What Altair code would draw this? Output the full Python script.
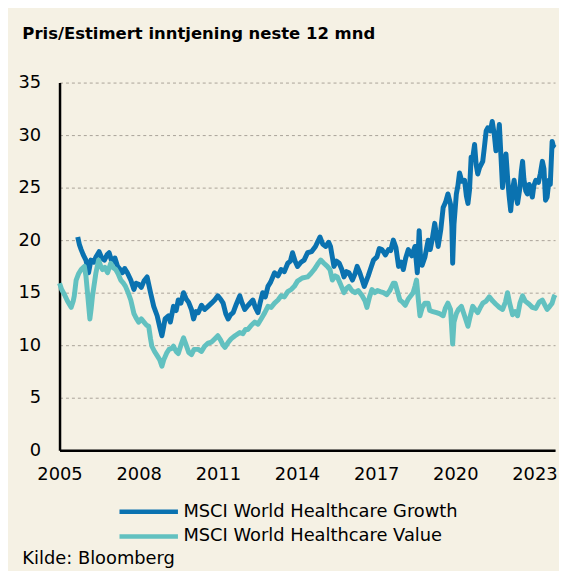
import altair as alt
import pandas as pd

# ---- data ----
growth_t = [2005.69, 2005.75, 2005.82, 2005.9, 2006.0, 2006.06, 2006.1, 2006.19, 2006.3, 2006.38,
            2006.5, 2006.6, 2006.7, 2006.8, 2006.88, 2007.0, 2007.1, 2007.2, 2007.3, 2007.38,
            2007.47, 2007.57, 2007.7, 2007.82, 2007.9, 2008.0, 2008.1, 2008.2, 2008.32, 2008.45,
            2008.57, 2008.7, 2008.82, 2008.88, 2008.95, 2009.0, 2009.13, 2009.2, 2009.32, 2009.42,
            2009.5, 2009.6, 2009.7, 2009.8, 2009.89, 2010.0, 2010.08, 2010.17, 2010.26, 2010.38,
            2010.5, 2010.63, 2010.76, 2010.88, 2011.0, 2011.1, 2011.2, 2011.3, 2011.39, 2011.48,
            2011.58, 2011.7, 2011.83, 2011.92, 2012.02, 2012.15, 2012.33, 2012.42, 2012.52, 2012.6,
            2012.7, 2012.8, 2012.9, 2013.0, 2013.15, 2013.28, 2013.4, 2013.52, 2013.65, 2013.75,
            2013.83, 2013.93, 2014.02, 2014.15, 2014.27, 2014.4, 2014.55, 2014.7, 2014.87, 2014.98,
            2015.09, 2015.2, 2015.27, 2015.4, 2015.5, 2015.6, 2015.7, 2015.78, 2015.88, 2015.97,
            2016.1, 2016.2, 2016.28, 2016.38, 2016.47, 2016.55, 2016.7, 2016.78, 2016.9, 2017.03,
            2017.12, 2017.22, 2017.35, 2017.47, 2017.55, 2017.65, 2017.75, 2017.85, 2017.95, 2018.03,
            2018.12, 2018.22, 2018.35, 2018.47, 2018.56, 2018.63, 2018.68, 2018.74, 2018.85, 2018.97,
            2019.05, 2019.12, 2019.22, 2019.35, 2019.45, 2019.54, 2019.63, 2019.72, 2019.82, 2019.87,
            2019.9, 2019.95, 2020.04, 2020.1, 2020.16, 2020.25, 2020.35, 2020.42, 2020.48, 2020.54,
            2020.6, 2020.67, 2020.73, 2020.79, 2020.85, 2020.92, 2021.04, 2021.1, 2021.17, 2021.23,
            2021.33, 2021.4, 2021.48, 2021.54, 2021.6, 2021.67, 2021.73, 2021.79, 2021.85, 2021.92,
            2021.98, 2022.04, 2022.1, 2022.17, 2022.23, 2022.3, 2022.36, 2022.45, 2022.5, 2022.55,
            2022.6, 2022.67, 2022.73, 2022.8, 2022.92, 2022.98, 2023.05, 2023.15, 2023.22, 2023.3,
            2023.36, 2023.42, 2023.48, 2023.55, 2023.6, 2023.67, 2023.72, 2023.78]
growth_v = [20.3, 19.6, 19.1, 18.6, 18.1, 17.4, 16.9, 18.1, 17.9, 18.4,
            18.9, 18.3, 18.1, 18.6, 18.8, 17.8, 18.3, 17.5, 17.2, 16.9,
            17.3, 16.9, 16.2, 15.3, 15.9, 15.8, 15.5, 16.1, 16.5, 15.0,
            13.7, 12.8, 11.5, 10.9, 11.8, 12.5, 12.8, 12.2, 13.7, 13.3,
            14.3, 14.0, 15.0, 14.4, 14.1, 13.4, 12.5, 13.2, 13.1, 13.8,
            13.4, 13.7, 14.0, 14.3, 14.7, 14.4, 14.0, 13.0, 12.5, 12.9,
            13.1, 13.9, 14.7, 14.0, 13.4, 13.8, 14.3, 13.6, 13.1, 14.0,
            15.0, 14.6, 15.6, 16.0, 16.9, 16.6, 17.2, 17.0, 17.8, 18.0,
            18.8, 18.0, 17.5, 17.9, 18.1, 18.8, 18.9, 19.4, 20.3, 19.6,
            19.4, 19.8, 19.4, 17.5, 18.0, 17.8, 17.2, 16.5, 17.0, 16.9,
            16.2, 16.8, 17.5, 16.9, 16.2, 15.6, 16.6, 17.2, 18.1, 18.4,
            19.2, 19.1, 18.6, 19.1, 19.0, 20.0, 19.3, 17.5, 17.9, 17.2,
            18.3, 19.1, 18.5, 19.4, 16.9, 20.9, 18.5, 17.6, 18.4, 20.0,
            19.1, 20.0, 21.6, 19.4, 21.0, 23.1, 23.6, 24.4, 23.4, 21.3,
            17.8, 21.5, 24.4, 25.2, 26.4, 25.6, 25.7, 24.2, 23.5, 24.8,
            27.9, 28.0, 29.1, 27.2, 26.3, 26.9, 27.5, 28.8, 30.4, 30.7,
            30.4, 31.3, 30.0, 28.5, 29.3, 31.0, 28.0, 25.0, 27.0, 28.2,
            26.0, 24.2, 22.8, 24.8, 25.7, 24.2, 23.5, 25.0, 26.5, 27.5,
            25.8, 24.7, 24.4, 25.3, 24.1, 25.2, 25.7, 25.5, 26.3, 27.5,
            26.8, 23.8, 24.1, 25.7, 25.3, 29.4, 28.9, 28.8]

value_t = [2005.0, 2005.08, 2005.19, 2005.3, 2005.44, 2005.52, 2005.56, 2005.63, 2005.72, 2005.82,
           2005.94, 2006.0, 2006.06, 2006.15, 2006.2, 2006.25, 2006.38, 2006.48, 2006.55, 2006.63,
           2006.72, 2006.82, 2006.94, 2007.03, 2007.13, 2007.22, 2007.32, 2007.42, 2007.5, 2007.6,
           2007.7, 2007.82, 2007.9, 2008.0, 2008.1, 2008.2, 2008.3, 2008.38, 2008.45, 2008.5,
           2008.6, 2008.7, 2008.8, 2008.88, 2008.95, 2009.07, 2009.15, 2009.25, 2009.32, 2009.42,
           2009.5, 2009.6, 2009.7, 2009.8, 2009.9, 2010.0, 2010.1, 2010.26, 2010.38, 2010.5,
           2010.63, 2010.76, 2010.88, 2011.0, 2011.1, 2011.2, 2011.27, 2011.4, 2011.5, 2011.65,
           2011.83, 2011.95, 2012.05, 2012.14, 2012.27, 2012.4, 2012.52, 2012.64, 2012.78, 2012.9,
           2013.02, 2013.15, 2013.28, 2013.4, 2013.52, 2013.65, 2013.78, 2013.9, 2014.02, 2014.2,
           2014.4, 2014.52, 2014.65, 2014.78, 2014.9, 2015.02, 2015.15, 2015.25, 2015.34, 2015.45,
           2015.53, 2015.65, 2015.78, 2015.88, 2015.97, 2016.08, 2016.2, 2016.32, 2016.47, 2016.58,
           2016.65, 2016.75, 2016.84, 2016.95, 2017.05, 2017.15, 2017.28, 2017.4, 2017.52, 2017.65,
           2017.72, 2017.82, 2017.9, 2018.0, 2018.1, 2018.22, 2018.4, 2018.47, 2018.53, 2018.6,
           2018.66, 2018.75, 2018.85, 2018.97, 2019.03, 2019.15, 2019.29, 2019.4, 2019.54, 2019.62,
           2019.72, 2019.82, 2019.9, 2019.95, 2020.04, 2020.12, 2020.23, 2020.35, 2020.48, 2020.56,
           2020.66, 2020.75, 2020.85, 2020.95, 2021.04, 2021.17, 2021.29, 2021.42, 2021.54, 2021.67,
           2021.79, 2021.9, 2021.98, 2022.06, 2022.17, 2022.27, 2022.36, 2022.45, 2022.55, 2022.65,
           2022.8, 2022.92, 2023.05, 2023.18, 2023.3, 2023.4, 2023.48, 2023.58, 2023.67, 2023.74,
           2023.78]
value_v = [15.9, 15.3, 14.8, 14.2, 13.6, 14.2, 14.7, 16.2, 16.8, 17.2,
           17.5, 16.6, 15.0, 12.5, 13.5, 14.7, 16.9, 18.1, 17.6, 17.2,
           17.4, 16.9, 17.8, 17.4, 17.2, 16.8, 16.2, 15.9, 15.6, 15.0,
           14.3, 13.0, 12.6, 12.2, 12.5, 12.2, 11.9, 11.8, 10.6, 9.9,
           9.4, 9.0, 8.6, 8.0, 8.6, 9.3, 9.6, 9.7, 9.9, 9.4,
           9.2, 10.0, 10.7, 10.0, 9.3, 9.1, 9.6, 9.6, 9.4, 9.9,
           10.2, 10.3, 10.6, 10.9, 10.5, 10.0, 9.8, 10.3, 10.6, 10.9,
           11.2, 11.1, 11.5, 11.5, 11.9, 12.2, 12.0, 12.5, 13.1, 13.7,
           13.6, 14.0, 14.3, 14.7, 14.6, 15.1, 15.3, 15.6, 16.1, 16.4,
           16.5, 16.8, 17.2, 17.7, 18.1, 17.8, 17.5, 17.2, 16.2, 16.6,
           16.5, 15.8, 15.0, 15.4, 15.6, 15.2, 15.0, 15.2, 14.7, 14.2,
           13.6, 14.6, 15.3, 15.0, 15.2, 15.1, 15.0, 14.8, 15.2, 15.9,
           15.9, 15.0, 14.3, 14.1, 13.8, 14.4, 15.0, 15.6, 16.2, 14.3,
           12.8, 13.6, 14.0, 14.0, 13.3, 13.2, 13.1, 13.0, 12.8, 13.5,
           14.0, 13.4, 10.1, 12.2, 13.0, 13.4, 13.7, 12.8, 11.8, 12.7,
           13.7, 13.4, 13.1, 13.6, 14.0, 14.2, 14.6, 14.2, 13.9, 13.6,
           13.4, 14.1, 15.0, 14.0, 12.9, 13.2, 12.8, 14.0, 14.7, 14.2,
           13.9, 13.6, 13.5, 14.1, 14.3, 13.8, 13.4, 13.7, 14.0, 14.6,
           14.8]

series_names = ["MSCI World Healthcare Growth", "MSCI World Healthcare Value"]
series_colors = ["#0a72b0", "#62c1c0"]
x_ticks = [2005, 2008, 2011, 2014, 2017, 2020, 2023]
y_ticks = [0, 5, 10, 15, 20, 25, 30, 35]
title_text = "Pris/Estimert inntjening neste 12 mnd"
source_text = "Kilde: Bloomberg"

df = pd.concat([
    pd.DataFrame({"t": growth_t, "v": growth_v, "serie": series_names[0]}),
    pd.DataFrame({"t": value_t, "v": value_v, "serie": series_names[1]}),
], ignore_index=True)

FONT = "DejaVu Sans"

chart = alt.Chart(df).mark_line(strokeWidth=5, strokeJoin="round").encode(
    x=alt.X("t:Q",
            scale=alt.Scale(domain=[2005, 2023.78], nice=False, zero=False),
            axis=alt.Axis(values=x_ticks, format="d", grid=False, ticks=False, tickSize=0,
                          labelFlush=False, labelOverlap=False,
                          labelPadding=16, labelFontSize=18, labelFont=FONT, labelColor="#000000",
                          domainColor="#000000", domainWidth=2.5,
                          title=source_text, titleX=-38, titleY=109, titleAlign="left",
                          titleBaseline="middle", titleFontWeight="normal", titleFontSize=18,
                          titleFont=FONT, titleColor="#000000", titleAnchor="start")),
    y=alt.Y("v:Q",
            scale=alt.Scale(domain=[0, 35], nice=False),
            axis=alt.Axis(values=y_ticks, grid=True, gridDash=[3, 3], gridColor="#a9a298",
                          gridWidth=1, ticks=False, tickSize=0, labelPadding=19,
                          labelFontSize=18, labelFont=FONT, labelColor="#000000",
                          domainColor="#000000", domainWidth=2.5,
                          title=title_text, titleX=-38, titleY=-44, titleAngle=0,
                          titleAlign="left", titleBaseline="alphabetic", titleFontWeight="bold",
                          titleFontSize=16.6, titleFont=FONT, titleColor="#000000",
                          titleLimit=1000, titleAnchor="start")),
    color=alt.Color("serie:N",
                    scale=alt.Scale(domain=series_names, range=series_colors),
                    legend=alt.Legend(title=None, orient="none", legendX=79, legendY=422,
                                      symbolType="M-3.47,0H3.47", symbolSize=289,
                                      symbolStrokeWidth=4.5, labelOffset=24, rowPadding=5,
                                      labelFont=FONT, labelFontSize=18, labelColor="#000000",
                                      padding=0, labelLimit=1000)),
).properties(
    width=500, height=371,
    background="#f5f1e4",
    padding={"left": 52, "top": 72.7, "right": 4, "bottom": 119},
    autosize=alt.AutoSizeParams(type="none"),
).configure_view(strokeWidth=0)

chart.save("out.html", embed_options={"renderer": "svg", "actions": False})
